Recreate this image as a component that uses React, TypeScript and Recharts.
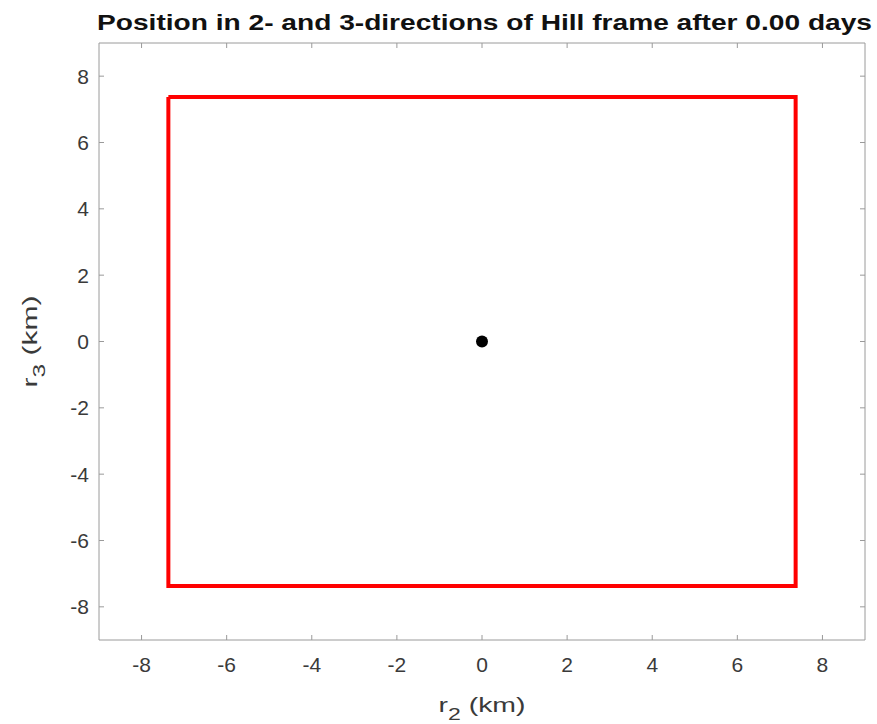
import { ScatterChart, Scatter, XAxis, YAxis } from "recharts";

// tick positions shared by both axes (km)
const ticks = [-8, -6, -4, -2, 0, 2, 4, 6, 8];
const axisDomain: [number, number] = [-9, 9];

// corners of the red bounding square, closed back to the start
const boxCorners = [
  { r2: -7.37, r3: 7.37 },
  { r2: 7.37, r3: 7.37 },
  { r2: 7.37, r3: -7.37 },
  { r2: -7.37, r3: -7.37 },
  { r2: -7.37, r3: 7.37 },
];

// spacecraft position
const position = [{ r2: 0, r3: 0 }];

const titleText = "Position in 2- and 3-directions of Hill frame after 0.00 days";

const axisColor = "#9a9a9a";
const textColor = "#3a3a3a";
const font = "'Liberation Sans', Arial, Helvetica, sans-serif";

const W = 877;
const H = 724;

function XLabel(props: any) {
  const vb = props.viewBox;
  const cx = vb.x + vb.width / 2;
  return (
    <text
      x={cx}
      y={712}
      textAnchor="middle"
      fontSize={21}
      fill={textColor}
      fontFamily={font}
      textLength={87}
      lengthAdjust="spacingAndGlyphs"
    >
      r<tspan fontSize={17} dy={8}>2</tspan>
      <tspan dy={-8}> (km)</tspan>
    </text>
  );
}

function YLabel(props: any) {
  const vb = props.viewBox;
  const cy = vb.y + vb.height / 2;
  return (
    <text
      x={0}
      y={0}
      transform={`translate(37, ${cy}) rotate(-90)`}
      textAnchor="middle"
      fontSize={21}
      fill={textColor}
      fontFamily={font}
      textLength={92}
      lengthAdjust="spacingAndGlyphs"
    >
      r<tspan fontSize={17} dy={8}>3</tspan>
      <tspan dy={-8}> (km)</tspan>
    </text>
  );
}

function Title() {
  return (
    <text
      x={97}
      y={30}
      fontSize={22}
      fontWeight="bold"
      fill="#111"
      fontFamily={font}
      textLength={775}
      lengthAdjust="spacingAndGlyphs"
    >
      {titleText}
    </text>
  );
}

const noLabel = () => "";

export default function App() {
  return (
    <div style={{ position: "absolute", left: 0, top: 0, width: W, height: H, background: "#fff" }}>
      <ScatterChart width={W} height={H} margin={{ top: 42, right: 11, bottom: 24, left: 39 }}>
        <XAxis
          xAxisId="bottom"
          type="number"
          dataKey="r2"
          domain={axisDomain}
          ticks={ticks}
          allowDataOverflow
          height={60}
          stroke={axisColor}
          tickSize={-5}
          tickMargin={22}
          tick={{ fill: textColor, fontSize: 21, fontFamily: font }}
          label={{ content: XLabel }}
        />
        <XAxis
          xAxisId="top"
          orientation="top"
          type="number"
          dataKey="r2"
          domain={axisDomain}
          ticks={ticks}
          allowDataOverflow
          height={1}
          stroke={axisColor}
          tickSize={-5}
          tickFormatter={noLabel}
          label={{ content: Title }}
        />
        <YAxis
          yAxisId="left"
          type="number"
          dataKey="r3"
          domain={axisDomain}
          ticks={ticks}
          allowDataOverflow
          width={60}
          stroke={axisColor}
          tickSize={-5}
          tickMargin={15}
          tick={{ fill: textColor, fontSize: 21, fontFamily: font }}
          label={{ content: YLabel }}
        />
        <YAxis
          yAxisId="right"
          orientation="right"
          type="number"
          dataKey="r3"
          domain={axisDomain}
          ticks={ticks}
          allowDataOverflow
          width={1}
          stroke={axisColor}
          tickSize={-5}
          tickFormatter={noLabel}
        />
        <Scatter
          xAxisId="bottom"
          yAxisId="left"
          data={boxCorners}
          line={{ stroke: "#ff0000", strokeWidth: 4 }}
          shape={() => <g />}
          isAnimationActive={false}
        />
        <Scatter
          xAxisId="bottom"
          yAxisId="left"
          data={position}
          fill="#000"
          shape={(p: any) => <circle cx={p.cx} cy={p.cy} r={6} fill="#000" />}
          isAnimationActive={false}
        />
      </ScatterChart>
    </div>
  );
}
